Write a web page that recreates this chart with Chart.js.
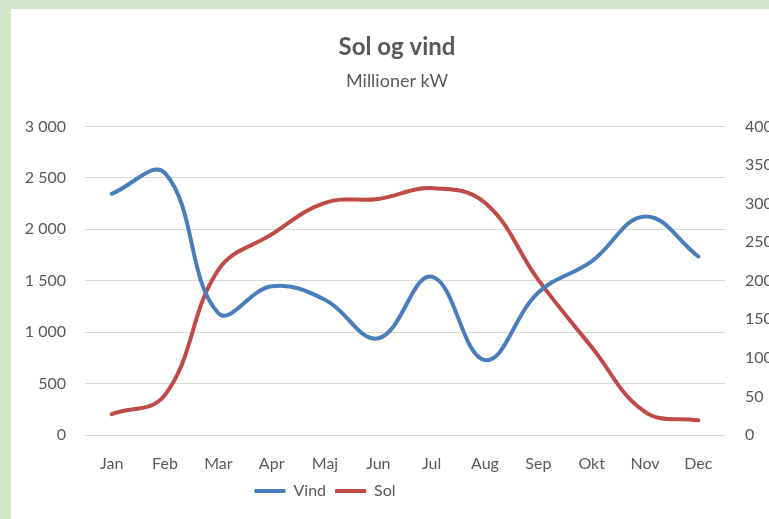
<!DOCTYPE html>
<html>
<head>
<meta charset="utf-8">
<script src="https://cdn.jsdelivr.net/npm/chart.js@4/dist/chart.umd.min.js"></script>
<style>
  html, body { margin: 0; padding: 0; width: 769px; height: 519px; overflow: hidden; background: #d2e6ca; }
  #wrap { position: absolute; left: 11px; top: 9px; width: 772px; height: 510px; background: #ffffff; }
</style>
</head>
<body>
<div id="wrap"><canvas id="c"></canvas></div>
<script>
const categories = ["Jan","Feb","Mar","Apr","Maj","Jun","Jul","Aug","Sep","Okt","Nov","Dec"];
const vind = [2345, 2545, 1185, 1445, 1315, 940, 1540, 728, 1385, 1688, 2125, 1735];
const sol = [27, 52, 214, 260, 301, 306, 320, 301, 201, 114, 30, 19];
const leftTicks = [0, 500, 1000, 1500, 2000, 2500, 3000];
const rightTicks = [0, 50, 100, 150, 200, 250, 300, 350, 400];

const FONT = "Lato";
const TXT = "#595959";
const fmt = v => String(v).replace(/\B(?=(\d{3})+(?!\d))/g, " ");

const legendShift = {
  id: "legendShift",
  afterLayout(chart) {
    const lg = chart.legend;
    if (lg) { lg.left -= 72; lg.right -= 72; }
  }
};

new Chart(document.getElementById("c"), {
  type: "line",
  data: {
    labels: categories,
    datasets: [
      { label: "Vind", data: vind, yAxisID: "y", borderColor: "#4a7ebb", backgroundColor: "#4a7ebb",
        borderWidth: 4, pointRadius: 0, tension: 0.4, borderCapStyle: "round" },
      { label: "Sol", data: sol, yAxisID: "y1", borderColor: "#be4b48", backgroundColor: "#be4b48",
        borderWidth: 4, pointRadius: 0, tension: 0.4, borderCapStyle: "round" }
    ]
  },
  plugins: [legendShift],
  options: {
    responsive: true,
    maintainAspectRatio: false,
    animation: false,
    layout: { padding: { top: 10, left: 0, right: 0, bottom: 10 } },
    plugins: {
      title: { display: true, text: "Sol og vind", color: TXT,
        font: { family: FONT, size: 24, weight: "bold" }, padding: { top: 14, bottom: 4 } },
      subtitle: { display: true, text: "Millioner kW", color: TXT,
        font: { family: FONT, size: 18 }, padding: { top: 5, bottom: 34 } },
      legend: { display: true, position: "bottom",
        labels: { color: TXT, font: { family: FONT, size: 16 }, boxWidth: 31, boxHeight: 4, padding: 9,
          generateLabels: (chart) => Chart.defaults.plugins.legend.labels.generateLabels(chart).map(l => ({...l, lineWidth: 0, fillStyle: l.strokeStyle})) } },
      tooltip: { enabled: false }
    },
    scales: {
      x: {
        offset: true,
        grid: { display: false, offset: true },
        border: { display: false },
        afterFit: s => { s.height = 39; },
        ticks: { color: TXT, font: { family: FONT, size: 16 }, padding: 11, maxRotation: 0 }
      },
      y: {
        position: "left", min: 0, max: 3000,
        afterBuildTicks: s => { s.ticks = leftTicks.map(v => ({ value: v })); },
        afterFit: s => { s.width = 74; },
        grid: { color: "#d9d9d9", lineWidth: 1, drawTicks: false },
        border: { display: false },
        ticks: { color: TXT, font: { family: FONT, size: 16 }, padding: 19, callback: v => fmt(v) }
      },
      y1: {
        position: "right", min: 0, max: 400,
        afterBuildTicks: s => { s.ticks = rightTicks.map(v => ({ value: v })); },
        afterFit: s => { s.width = 58; },
        grid: { drawOnChartArea: false, drawTicks: false },
        border: { display: false },
        ticks: { color: TXT, font: { family: FONT, size: 16 }, padding: 20, callback: v => fmt(v) }
      }
    }
  }
});
</script>
</body>
</html>
